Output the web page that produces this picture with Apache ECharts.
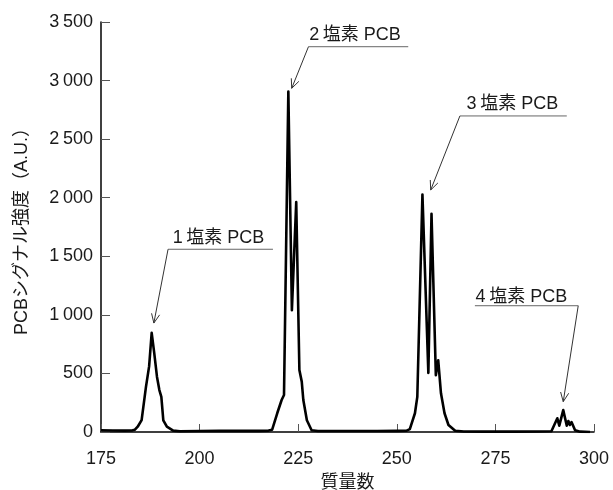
<!DOCTYPE html>
<html>
<head>
<meta charset="utf-8">
<script src="https://cdn.jsdelivr.net/npm/echarts@6/dist/echarts.min.js"></script>
<style>
  html, body { margin: 0; padding: 0; background: #fff; }
  #chart { width: 613px; height: 490px; }
</style>
</head>
<body>
<div id="chart"></div>
<script>
const FONT = "'Liberation Sans', Arial, 'Noto Sans CJK JP', sans-serif";

// mass number / signal intensity
const MASS = [
  175, 178, 181, 183, 183.6, 184.3, 185.3, 186.4, 187.2, 187.85, 188.5, 189.2, 189.8, 190.3, 190.8, 191.7, 193.3,
  195, 200, 205, 210, 215, 217.5, 218.4, 219.7, 220.8, 221.4, 222.5, 223.4, 224.5, 225.3, 225.9, 226.3, 227.2, 228.4,
  230, 235, 240, 245, 250, 252.5, 253.3, 254.6, 255.2, 256.5, 258.0, 258.8, 259.9, 260.5, 261.2, 262.1, 263.1, 264.8,
  267, 272, 280, 286, 289.2, 289.7, 290.7, 291.2, 292.2, 293.1, 293.5, 293.9, 294.3, 295.2, 296.5, 299
];
const SIGNAL = [
  15, 13, 12, 14, 20, 45, 102, 385, 560, 846, 674, 470, 358, 300, 100, 45, 12,
  6, 8, 10, 10, 10, 12, 20, 162, 273, 316, 2907, 1040, 1962, 530, 430, 273, 100, 15,
  8, 8, 8, 8, 10, 12, 25, 160, 300, 2027, 505, 1863, 485, 613, 330, 160, 60, 10,
  4, 3, 3, 4, 6, 12, 117, 54, 187, 54, 94, 60, 85, 15, 3, 0
];

// annotations: label, arrow tip, underline (x1, x2, y), text centre, leader from right end?
const ANN_LABELS = ["1\u2009塩素 PCB", "2\u2009塩素 PCB", "3\u2009塩素 PCB", "4\u2009塩素 PCB"];
const ANN_TIP = [[188.4, 930], [223.35, 2934], [258.6, 2066], [292.2, 259]];
const ANN_LINE = [[192.0, 218.6, 1560], [227.6, 252.9, 3289], [266.0, 293.1, 2698], [269.8, 296.0, 1078]];
const ANN_TEXT = [[204.8, 1660], [239.4, 3390], [279.3, 2800], [281.6, 1150]];
const ANN_FROM_RIGHT = [0, 0, 0, 1];

const X_MIN = 175, X_MAX = 300, X_STEP = 25;
const Y_MIN = 0, Y_MAX = 3500, Y_STEP = 500;

const chart = echarts.init(document.getElementById("chart"));

const annData = ANN_LABELS.map((label, i) => [
  ANN_TIP[i][0], ANN_TIP[i][1],
  ANN_LINE[i][0], ANN_LINE[i][1], ANN_LINE[i][2],
  ANN_TEXT[i][0], ANN_TEXT[i][1],
  ANN_FROM_RIGHT[i]
]);

function renderAnnotation(params, api) {
  const tip = api.coord([api.value(0), api.value(1)]);
  const a = api.coord([api.value(2), api.value(4)]);
  const b = api.coord([api.value(3), api.value(4)]);
  const t = api.coord([api.value(5), api.value(6)]);
  const from = api.value(7) ? b : a;

  const dx = tip[0] - from[0];
  const dy = tip[1] - from[1];
  const len = Math.sqrt(dx * dx + dy * dy);
  const ux = dx / len, uy = dy / len;
  const headLen = 10, ang = 0.42;
  const rot = (s) => [
    tip[0] - headLen * (ux * Math.cos(s * ang) - uy * Math.sin(s * ang)),
    tip[1] - headLen * (ux * Math.sin(s * ang) + uy * Math.cos(s * ang))
  ];

  return {
    type: "group",
    children: [
      { type: "line", shape: { x1: a[0], y1: a[1], x2: b[0], y2: b[1] }, style: { stroke: "#666", lineWidth: 1 } },
      { type: "line", shape: { x1: from[0], y1: from[1], x2: tip[0], y2: tip[1] }, style: { stroke: "#333", lineWidth: 1 } },
      { type: "polyline", shape: { points: [rot(1), tip, rot(-1)] }, style: { stroke: "#333", lineWidth: 1, fill: null } },
      {
        type: "text",
        x: t[0], y: t[1],
        style: {
          text: ANN_LABELS[params.dataIndex],
          font: "18px " + FONT,
          fill: "#1a1a1a",
          align: "center",
          verticalAlign: "middle"
        }
      }
    ]
  };
}

chart.setOption({
  animation: false,
  backgroundColor: "#fff",
  grid: { left: 101, right: 19, top: 22, bottom: 58, outerBoundsMode: "none" },
  xAxis: {
    type: "value",
    min: X_MIN, max: X_MAX, interval: X_STEP,
    name: "質量数",
    nameLocation: "middle",
    nameGap: 42,
    nameTextStyle: { fontSize: 18, color: "#1a1a1a", fontFamily: FONT },
    axisLine: { show: true, lineStyle: { color: "#000", width: 1.5 } },
    axisTick: { show: true, inside: true, length: 8, lineStyle: { color: "#555", width: 1 } },
    axisLabel: { fontSize: 18, color: "#1a1a1a", fontFamily: FONT, margin: 18 },
    splitLine: { show: false }
  },
  yAxis: {
    type: "value",
    min: Y_MIN, max: Y_MAX, interval: Y_STEP,
    name: "PCBシグナル強度（A.U.）",
    nameLocation: "middle",
    nameGap: 70,
    nameTextStyle: { fontSize: 18, color: "#1a1a1a", fontFamily: FONT },
    axisLine: { show: true, lineStyle: { color: "#000", width: 1.5 } },
    axisTick: { show: true, inside: true, length: 9, lineStyle: { color: "#555", width: 1 } },
    axisLabel: {
      fontSize: 18, color: "#1a1a1a", fontFamily: FONT, margin: 8,
      formatter: (v) => v >= 1000 ? Math.floor(v / 1000) + "\u2009" + String(v % 1000).padStart(3, "0") : String(v)
    },
    splitLine: { show: false }
  },
  series: [
    {
      type: "line",
      data: MASS.map((m, i) => [m, SIGNAL[i]]),
      showSymbol: false,
      smooth: false,
      lineStyle: { color: "#000", width: 2.6, join: "round" },
      z: 3
    },
    {
      type: "custom",
      renderItem: renderAnnotation,
      data: annData,
      encode: { x: 0, y: 1 },
      clip: false,
      silent: true,
      z: 4
    }
  ]
});
</script>
</body>
</html>
